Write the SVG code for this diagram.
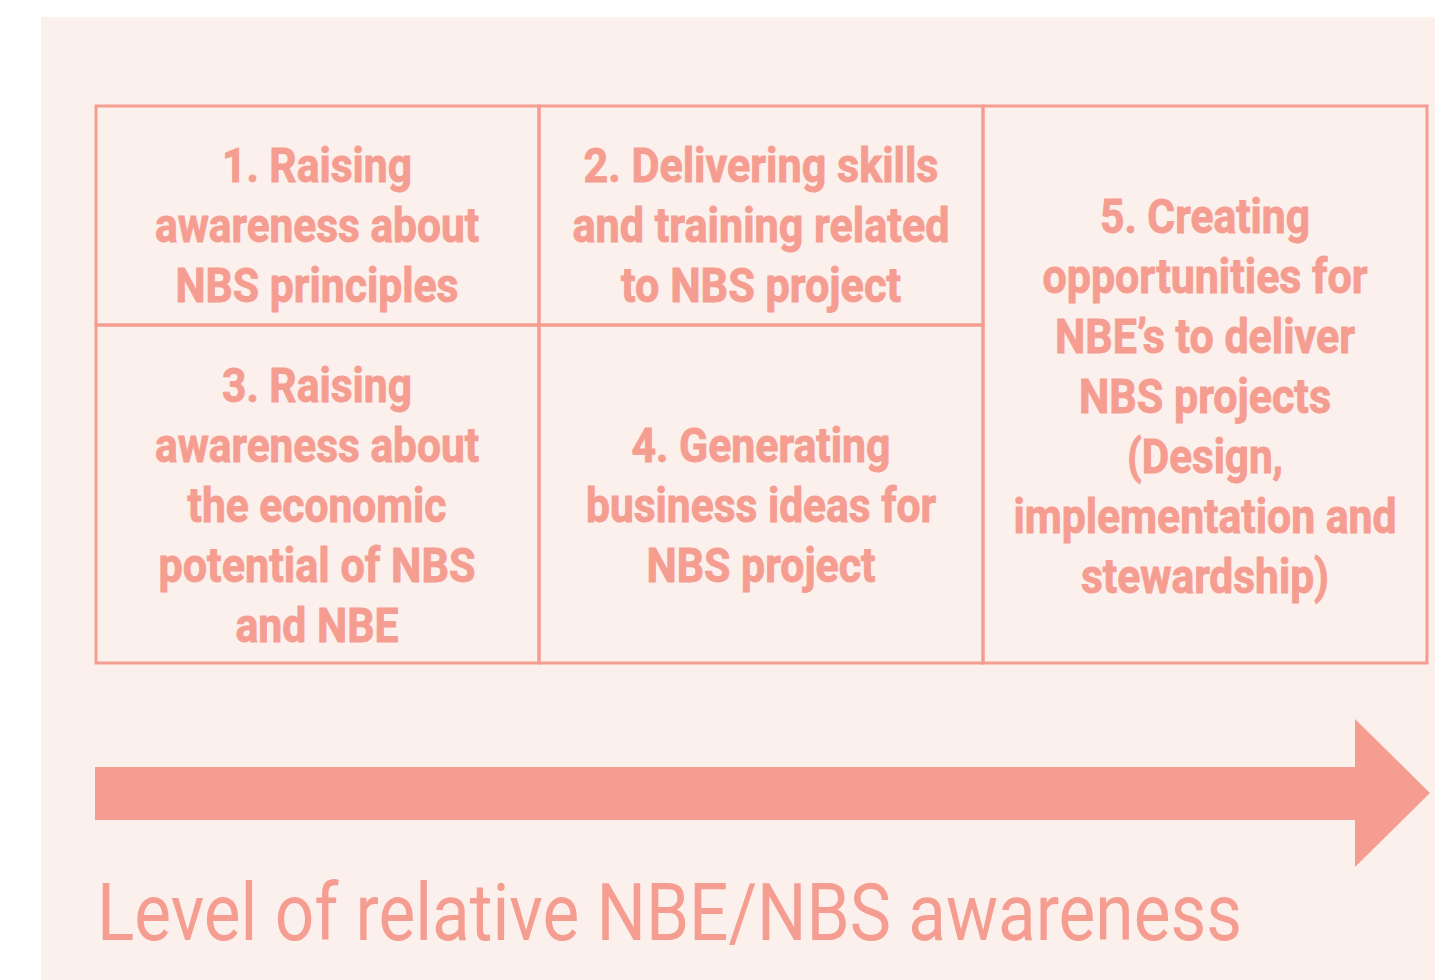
<svg xmlns="http://www.w3.org/2000/svg" width="1435" height="980" viewBox="0 0 1435 980">
<style>
.bg{fill:#FCF0EC}
.box{fill:none;stroke:#F59D91;stroke-width:3}
.t{font-family:Roboto,"Liberation Sans",sans-serif;font-weight:bold;font-size:48px;fill:#F59D91;stroke:#F59D91;stroke-width:0.9;text-anchor:middle}
.title{font-family:Roboto,"Liberation Sans",sans-serif;font-size:80px;fill:#F59D91}
.arrow{fill:#F59D91}
</style>
<rect class="bg" x="41" y="17" width="1394" height="963"/>
<g id="node1">
<rect class="box" x="96" y="106" width="443" height="219"/>
<text class="t" x="317" y="182" textLength="190" lengthAdjust="spacingAndGlyphs">1. Raising</text>
<text class="t" x="317" y="242" textLength="324" lengthAdjust="spacingAndGlyphs">awareness about</text>
<text class="t" x="317" y="302" textLength="283" lengthAdjust="spacingAndGlyphs">NBS principles</text>
</g>
<g id="node2">
<rect class="box" x="539" y="106" width="444" height="219"/>
<text class="t" x="761" y="182" textLength="355" lengthAdjust="spacingAndGlyphs">2. Delivering skills</text>
<text class="t" x="761" y="242" textLength="377" lengthAdjust="spacingAndGlyphs">and training related</text>
<text class="t" x="761" y="302" textLength="280" lengthAdjust="spacingAndGlyphs">to NBS project</text>
</g>
<g id="node3">
<rect class="box" x="96" y="325" width="443" height="338"/>
<text class="t" x="317" y="402" textLength="190" lengthAdjust="spacingAndGlyphs">3. Raising</text>
<text class="t" x="317" y="462" textLength="324" lengthAdjust="spacingAndGlyphs">awareness about</text>
<text class="t" x="317" y="522" textLength="259" lengthAdjust="spacingAndGlyphs">the economic</text>
<text class="t" x="317" y="582" textLength="317" lengthAdjust="spacingAndGlyphs">potential of NBS</text>
<text class="t" x="317" y="642" textLength="163" lengthAdjust="spacingAndGlyphs">and NBE</text>
</g>
<g id="node4">
<rect class="box" x="539" y="325" width="444" height="338"/>
<text class="t" x="761" y="462" textLength="259" lengthAdjust="spacingAndGlyphs">4. Generating</text>
<text class="t" x="761" y="522" textLength="350" lengthAdjust="spacingAndGlyphs">business ideas for</text>
<text class="t" x="761" y="582" textLength="229" lengthAdjust="spacingAndGlyphs">NBS project</text>
</g>
<g id="node5">
<rect class="box" x="983" y="106" width="444" height="557"/>
<text class="t" x="1205" y="233" textLength="210" lengthAdjust="spacingAndGlyphs">5. Creating</text>
<text class="t" x="1205" y="293" textLength="325" lengthAdjust="spacingAndGlyphs">opportunities for</text>
<text class="t" x="1205" y="353" textLength="300" lengthAdjust="spacingAndGlyphs">NBE’s to deliver</text>
<text class="t" x="1205" y="413" textLength="252" lengthAdjust="spacingAndGlyphs">NBS projects</text>
<text class="t" x="1205" y="473" textLength="156" lengthAdjust="spacingAndGlyphs">(Design,</text>
<text class="t" x="1205" y="533" textLength="383" lengthAdjust="spacingAndGlyphs">implementation and</text>
<text class="t" x="1205" y="593" textLength="248" lengthAdjust="spacingAndGlyphs">stewardship)</text>
</g>
<g id="connectors">
<polygon class="arrow" points="95,767 1355,767 1355,719 1430,793 1355,867 1355,820 95,820"/>
</g>
<text class="title" x="97" y="940" textLength="1145" lengthAdjust="spacingAndGlyphs">Level of relative NBE/NBS awareness</text>
</svg>
